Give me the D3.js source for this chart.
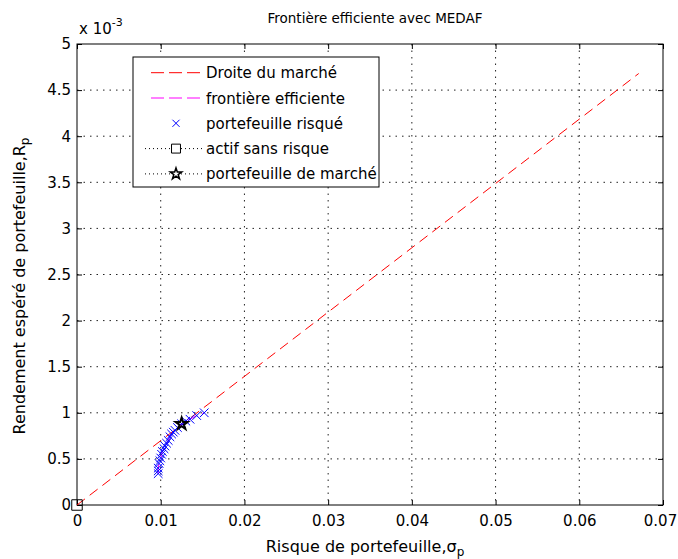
<!DOCTYPE html>
<html>
<head>
<meta charset="utf-8">
<script src="https://cdn.jsdelivr.net/npm/d3@7"></script>
<style>
  body { margin: 0; background: #fff; }
  svg text { font-family: "DejaVu Sans", sans-serif; fill: #000; }
</style>
</head>
<body>
<svg id="chart" width="678" height="559"></svg>
<script>
// Capital market line (Droite du marché)
const cmlSigma = [0, 0.0671];
const cmlReturn = [0, 0.00468];

// Risky portfolios on the efficient frontier
const frontSigma = [0.0097, 0.0097, 0.0097, 0.0098, 0.0099, 0.0100, 0.0101, 0.0102, 0.0104, 0.0105,
  0.0107, 0.0109, 0.0111, 0.0113, 0.0115, 0.0117, 0.0120, 0.0125, 0.0130, 0.0135, 0.0143, 0.0152];
const frontReturn = [0.00034, 0.00037, 0.00040, 0.00045, 0.00048, 0.00051, 0.00055, 0.00058, 0.00061, 0.00064,
  0.00067, 0.00070, 0.00074, 0.00077, 0.00079, 0.00081, 0.00084, 0.00088, 0.00091, 0.00093, 0.00097, 0.00100];

// Risk-free asset and market portfolio
const riskFree = [0, 0];
const market = [0.0125, 0.00088];

const xTicks = [0, 0.01, 0.02, 0.03, 0.04, 0.05, 0.06, 0.07];
const yTicks = [0, 0.0005, 0.001, 0.0015, 0.002, 0.0025, 0.003, 0.0035, 0.004, 0.0045, 0.005];

const legendLabels = ["Droite du marché", "frontière efficiente", "portefeuille risqué", "actif sans risque", "portefeuille de marché"];

const margin = { top: 44, right: 15, bottom: 54, left: 77 };
const W = 678, H = 559;
const width = W - margin.left - margin.right;
const height = H - margin.top - margin.bottom;

const svg = d3.select("#chart");
const g = svg.append("g").attr("transform", `translate(${margin.left},${margin.top})`);

const x = d3.scaleLinear().domain([0, 0.07]).range([0, width]);
const y = d3.scaleLinear().domain([0, 0.005]).range([height, 0]);

// Grid (dotted)
g.append("g")
  .selectAll("line")
  .data(xTicks.slice(1, -1))
  .join("line")
  .attr("x1", d => x(d)).attr("x2", d => x(d))
  .attr("y1", 0).attr("y2", height)
  .attr("stroke", "#222").attr("stroke-width", 1)
  .attr("stroke-dasharray", "1.5,5");

g.append("g")
  .selectAll("line")
  .data(yTicks.slice(1, -1))
  .join("line")
  .attr("y1", d => y(d)).attr("y2", d => y(d))
  .attr("x1", 0).attr("x2", width)
  .attr("stroke", "#222").attr("stroke-width", 1)
  .attr("stroke-dasharray", "1.5,5");

// Axes with inward ticks
const fmtX = d => d === 0 ? "0" : d3.format(".2f")(d);
const fmtY = d => d3.format("")(+(d * 1000).toFixed(1));

const styleAxis = sel => {
  sel.select(".domain").remove();
  sel.selectAll(".tick line").attr("stroke", "#000");
  sel.selectAll(".tick text").style("font-size", "15px").attr("fill", "#222");
};

g.append("g").attr("transform", `translate(0,${height})`)
  .call(d3.axisBottom(x).tickValues(xTicks).tickFormat(fmtX).tickSizeInner(-5).tickSizeOuter(0).tickPadding(10))
  .call(styleAxis)
  .call(a => a.selectAll(".tick text").filter(d => d === 0.07).attr("dx", -3));
g.append("g")
  .call(d3.axisTop(x).tickValues(xTicks).tickFormat("").tickSizeInner(-5).tickSizeOuter(0))
  .call(styleAxis);
g.append("g")
  .call(d3.axisLeft(y).tickValues(yTicks).tickFormat(fmtY).tickSizeInner(-5).tickSizeOuter(0).tickPadding(6))
  .call(styleAxis);
g.append("g").attr("transform", `translate(${width},0)`)
  .call(d3.axisRight(y).tickValues(yTicks).tickFormat("").tickSizeInner(-5).tickSizeOuter(0))
  .call(styleAxis);

// Box
g.append("rect")
  .attr("width", width).attr("height", height)
  .attr("fill", "none").attr("stroke", "#000").attr("stroke-width", 1);

// Capital market line
const cml = cmlSigma.map((s, i) => [s, cmlReturn[i]]);
const front = frontSigma.map((s, i) => [s, frontReturn[i]]);
const line = d3.line().x(d => x(d[0])).y(d => y(d[1]));

g.append("path").datum(cml)
  .attr("d", line).attr("fill", "none")
  .attr("stroke", "#ff0000").attr("stroke-width", 1)
  .attr("stroke-dasharray", "10,6");

// Efficient frontier
g.append("path").datum(front)
  .attr("d", line).attr("fill", "none")
  .attr("stroke", "#ff00ff").attr("stroke-width", 1)
  .attr("stroke-dasharray", "10,6");

// Risky portfolios (x markers)
const cross = d3.symbol().type(d3.symbolX).size(50);
g.append("g")
  .selectAll("path")
  .data(front)
  .join("path")
  .attr("transform", d => `translate(${x(d[0])},${y(d[1])})`)
  .attr("d", cross)
  .attr("fill", "none").attr("stroke", "#0000ff").attr("stroke-width", 1);

// Risk-free asset (square)
g.append("path")
  .attr("transform", `translate(${x(riskFree[0])},${y(riskFree[1])})`)
  .attr("d", d3.symbol().type(d3.symbolSquare).size(110))
  .attr("fill", "none").attr("stroke", "#000").attr("stroke-width", 1);

// Market portfolio (star)
g.append("path")
  .attr("transform", `translate(${x(market[0])},${y(market[1])})`)
  .attr("d", d3.symbol().type(d3.symbolStar).size(45))
  .attr("fill", "none").attr("stroke", "#000").attr("stroke-width", 2);

// Title and axis labels
svg.append("text")
  .attr("x", 375).attr("y", 23)
  .attr("text-anchor", "middle").style("font-size", "13.5px")
  .text("Frontière efficiente avec MEDAF");

const xl = svg.append("text")
  .attr("x", 365).attr("y", 552)
  .attr("text-anchor", "middle").style("font-size", "16px").attr("fill", "#222");
xl.append("tspan").text("Risque de portefeuille,σ");
xl.append("tspan").attr("dy", 4).style("font-size", "12px").text("p");

const yl = svg.append("text")
  .attr("transform", `translate(25,286) rotate(-90)`)
  .attr("text-anchor", "middle").style("font-size", "16px").attr("fill", "#222");
yl.append("tspan").text("Rendement espéré de portefeuille,R");
yl.append("tspan").attr("dy", 4).style("font-size", "12px").text("p");

// Exponent label
const ex = svg.append("text").attr("x", 79).attr("y", 34).style("font-size", "15px").attr("fill", "#222");
ex.append("tspan").text("x 10");
ex.append("tspan").attr("dy", -8).style("font-size", "11px").text("-3");

// Legend
const lg = svg.append("g").attr("transform", "translate(133,57)");
lg.append("rect").attr("width", 246).attr("height", 130)
  .attr("fill", "#fff").attr("stroke", "#000").attr("stroke-width", 1);

const rowY = i => 15.7 + i * 25.3;
legendLabels.forEach((lab, i) => {
  lg.append("text").attr("x", 73).attr("y", rowY(i) + 5.5).style("font-size", "15px").attr("fill", "#222").text(lab);
});
// sample lines
lg.append("line").attr("x1", 18).attr("x2", 68).attr("y1", rowY(0)).attr("y2", rowY(0))
  .attr("stroke", "#ff0000").attr("stroke-dasharray", "13,5");
lg.append("line").attr("x1", 18).attr("x2", 68).attr("y1", rowY(1)).attr("y2", rowY(1))
  .attr("stroke", "#ff00ff").attr("stroke-dasharray", "13,5");
lg.append("path").attr("transform", `translate(43,${rowY(2)})`).attr("d", d3.symbol().type(d3.symbolX).size(35))
  .attr("fill", "none").attr("stroke", "#0000ff");
[3, 4].forEach(i => {
  lg.append("line").attr("x1", 12).attr("x2", 70).attr("y1", rowY(i)).attr("y2", rowY(i))
    .attr("stroke", "#000").attr("stroke-dasharray", "1,3");
});
lg.append("path").attr("transform", `translate(43,${rowY(3)})`)
  .attr("d", d3.symbol().type(d3.symbolSquare).size(80))
  .attr("fill", "#fff").attr("stroke", "#000");
lg.append("path").attr("transform", `translate(43,${rowY(4)})`)
  .attr("d", d3.symbol().type(d3.symbolStar).size(40))
  .attr("fill", "#fff").attr("stroke", "#000").attr("stroke-width", 1.5);
</script>
</body>
</html>
